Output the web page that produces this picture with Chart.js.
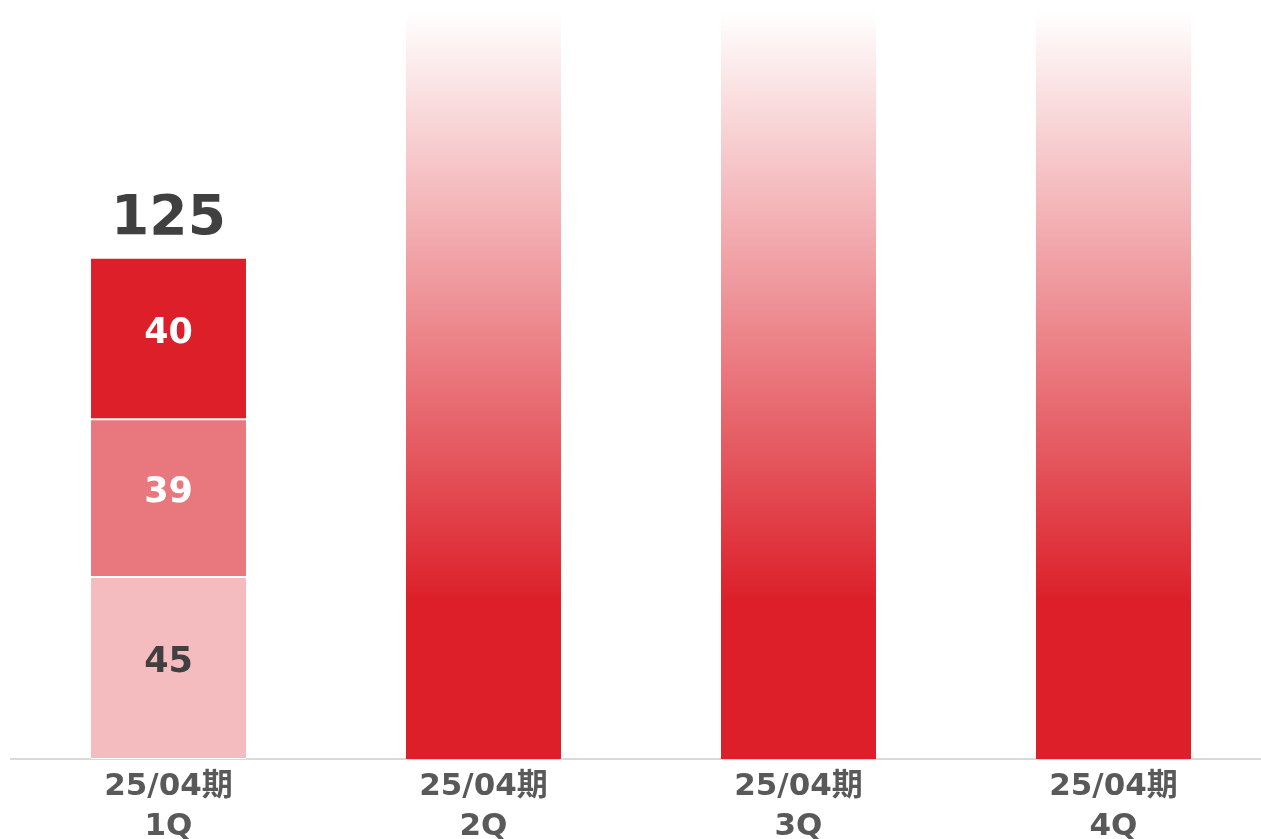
<!DOCTYPE html>
<html>
<head>
<meta charset="utf-8">
<script src="https://cdn.jsdelivr.net/npm/chart.js@4.4.1/dist/chart.umd.min.js"></script>
<style>
  html, body { margin: 0; padding: 0; background: #fff; overflow: hidden; }
  #wrap { width: 1271px; height: 839px; }
</style>
</head>
<body>
<div id="wrap"><canvas id="chart"></canvas></div>
<script>
// Data
const categories = [["25/04期", "1Q"], ["25/04期", "2Q"], ["25/04期", "3Q"], ["25/04期", "4Q"]];
const bottomSeries = [45, null, null, null];
const middleSeries = [39, null, null, null];
const topSeries = [40, null, null, null];
const placeholderSeries = [null, 185, 185, 185];
const totals = [125, null, null, null];

const RED = "rgb(220, 31, 41)";
const FONT = "'DejaVu Sans', Verdana, 'Noto Sans CJK JP', sans-serif";

// Fading red for the quarters not reported yet
function fadeFill(context) {
  const chart = context.chart;
  const area = chart.chartArea;
  if (!area) return RED;
  const y = chart.scales.y;
  const g = chart.ctx.createLinearGradient(0, y.getPixelForValue(0), 0, area.top);
  g.addColorStop(0, "rgba(220, 31, 41, 1)");
  g.addColorStop(0.21, "rgba(220, 31, 41, 1)");
  g.addColorStop(0.6, "rgba(220, 31, 41, 0.5)");
  g.addColorStop(1, "rgba(220, 31, 41, 0)");
  return g;
}

// Labels inside the segments and the total above the stack
const labelPlugin = {
  id: "labels",
  afterDatasetsDraw(chart) {
    const ctx = chart.ctx;
    ctx.save();
    ctx.textAlign = "center";
    chart.data.datasets.forEach((ds, i) => {
      if (!ds.labelColor) return;
      const meta = chart.getDatasetMeta(i);
      meta.data.forEach((bar, j) => {
        const v = ds.data[j];
        if (v == null) return;
        const mid = (bar.y + bar.base) / 2;
        ctx.font = "bold 35px " + FONT;
        ctx.fillStyle = ds.labelColor;
        ctx.textBaseline = "middle";
        ctx.fillText(String(v), bar.x, mid - 5);
      });
    });
    // totals
    const topMeta = chart.getDatasetMeta(2);
    totals.forEach((t, j) => {
      if (t == null) return;
      const bar = topMeta.data[j];
      ctx.font = "bold 55px " + FONT;
      ctx.fillStyle = "#404040";
      ctx.textBaseline = "alphabetic";
      ctx.fillText(String(t), bar.x, bar.y - 24);
    });
    ctx.restore();
  }
};

new Chart(document.getElementById("chart"), {
  type: "bar",
  data: {
    labels: categories,
    datasets: [
      { label: "bottom", data: bottomSeries, backgroundColor: "rgb(244, 188, 191)", labelColor: "#404040" },
      { label: "middle", data: middleSeries, backgroundColor: "rgb(232, 120, 126)", labelColor: "#ffffff" },
      { label: "top", data: topSeries, backgroundColor: RED, labelColor: "#ffffff" },
      { label: "plan", data: placeholderSeries, backgroundColor: fadeFill, borderWidth: 0 }
    ].map((d, i) => Object.assign({
      stack: "s",
      categoryPercentage: 1,
      barPercentage: 0.492,
      borderColor: "#ffffff",
      borderWidth: i < 3 ? { top: 1, bottom: 1 } : 0,
      borderSkipped: false
    }, d))
  },
  options: {
    responsive: true,
    maintainAspectRatio: false,
    animation: false,
    layout: { padding: { left: 11, right: 0, top: 11, bottom: 0 } },
    plugins: { legend: { display: false }, tooltip: { enabled: false } },
    scales: {
      x: {
        stacked: true,
        grid: { display: false },
        border: { display: true, color: "#d9d9d9", width: 2 },
        ticks: {
          color: "#595959",
          font: { family: FONT, size: 31, weight: "bold", lineHeight: 1.3 },
          padding: 0,
          maxRotation: 0
        },
        afterFit(scale) { scale.height = 80; }
      },
      y: {
        stacked: true,
        display: false,
        min: 0,
        max: 185
      }
    }
  },
  plugins: [labelPlugin]
});
</script>
</body>
</html>
